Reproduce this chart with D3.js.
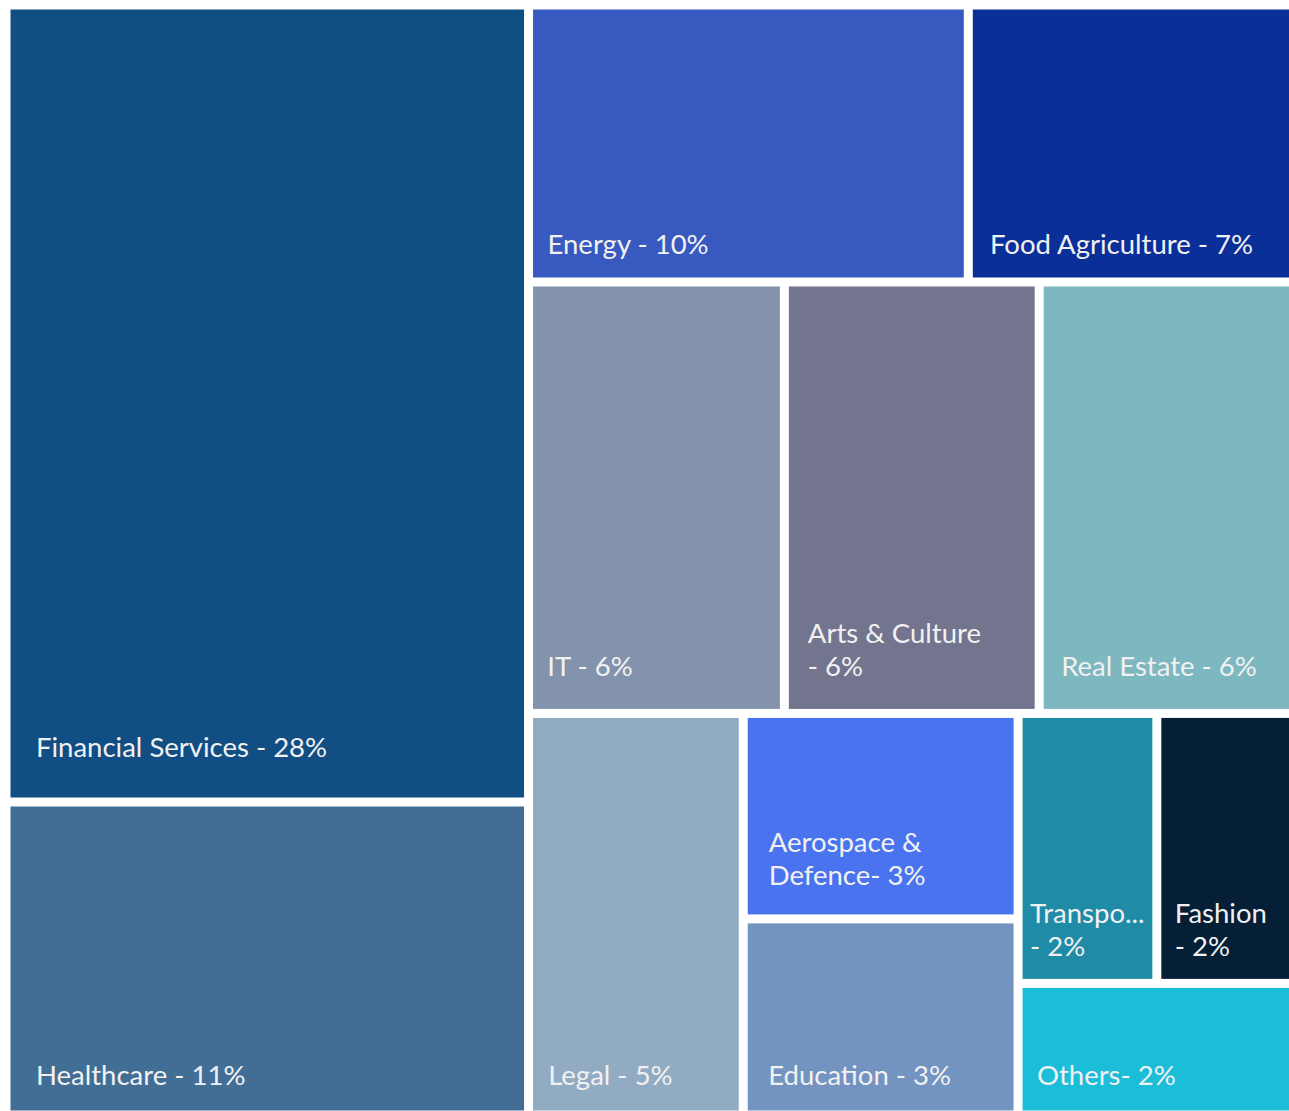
<!DOCTYPE html>
<html>
<head>
<meta charset="utf-8">
<script src="https://cdn.jsdelivr.net/npm/d3@7"></script>
<style>
  html, body { margin: 0; padding: 0; background: #ffffff; }
  svg { display: block; }
  text { font-family: Lato, "Open Sans", sans-serif; }
</style>
</head>
<body>
<div id="chart"></div>
<script>
// ---------------- data ----------------
const categories = ["Financial Services", "Healthcare", "Energy", "Food Agriculture", "IT",
  "Arts & Culture", "Real Estate", "Legal", "Aerospace & Defence", "Education",
  "Transportation", "Fashion", "Others"];
const labels = ["Financial Services - 28%", "Healthcare - 11%", "Energy - 10%", "Food Agriculture - 7%",
  "IT - 6%", "Arts & Culture - 6%", "Real Estate - 6%", "Legal - 5%", "Aerospace & Defence- 3%",
  "Education - 3%", "Transportation - 2%", "Fashion - 2%", "Others- 2%"];
// relative weights (tile areas)
const weights = [29.13, 11.44, 8.52, 6.31, 7.72, 7.69, 7.69, 6.03, 3.95, 3.77, 2.62, 2.59, 2.54];
// grouping path of each tile in the nested layout
const groups = ["A", "A", "B/r1", "B/r1", "B/r2", "B/r2", "B/r2", "B/r3", "B/r3/c", "B/r3/c",
  "B/r3/d/e", "B/r3/d/e", "B/r3/d"];
const colors = ["#114e83", "#426e96", "#3859bf", "#0b2f99", "#8293ab", "#73758f", "#7db7bf",
  "#91abc3", "#4a73ef", "#7393c1", "#1f8ba6", "#041f36", "#1bbdd9"];

// ---------------- label styling (offsets from tile left / bottom) ----------------
const labelDx = {"Financial Services": 25.5, "Healthcare": 25.5, "Energy": 14.5, "Food Agriculture": 17.2,
  "IT": 14.3, "Arts & Culture": 19, "Real Estate": 17.5, "Legal": 15.2, "Aerospace & Defence": 21,
  "Education": 20.5, "Transportation": 7.5, "Fashion": 13.5, "Others": 14.4};
const labelBottom = {"Financial Services": 40.5, "Healthcare": 25.5, "Energy": 23.5, "Food Agriculture": 23.5,
  "IT": 32.5, "Arts & Culture": 32.5, "Real Estate": 33, "Legal": 25.5, "Aerospace & Defence": 29,
  "Education": 25.5, "Transportation": 23, "Fashion": 23, "Others": 25.5};

const W = 1289, H = 1111;
const fontSize = 27.5, lineH = 33;

// build nested hierarchy
const rootData = {name: "root", children: []};
categories.forEach((c, i) => {
  let node = rootData;
  groups[i].split("/").forEach(g => {
    let ch = node.children.find(d => d.name === "__" + g);
    if (!ch) { ch = {name: "__" + g, children: []}; node.children.push(ch); }
    node = ch;
  });
  node.children.push({name: c, label: labels[i], value: weights[i], color: colors[i]});
});

const root = d3.hierarchy(rootData).sum(d => d.value || 0);
d3.treemap()
  .tile(d3.treemapSliceDice)
  .size([1279, 1101])
  .paddingInner(9)
  .round(false)(root);

const svg = d3.select("#chart").append("svg").attr("width", W).attr("height", H);
const g = svg.append("g").attr("transform", "translate(10.5,9.5)");

const leaves = g.selectAll("g.leaf").data(root.leaves()).join("g").attr("class", "leaf");
leaves.append("rect")
  .attr("x", d => d.x0).attr("y", d => d.y0)
  .attr("width", d => d.x1 - d.x0).attr("height", d => d.y1 - d.y0)
  .attr("fill", d => d.data.color);

// measure helper
const meas = svg.append("text").attr("font-size", fontSize).attr("visibility", "hidden");
function tw(s) { meas.text(s); return meas.node().getComputedTextLength(); }

leaves.each(function(d) {
  const w = d.x1 - d.x0;
  const dx = labelDx[d.data.name];
  const avail = w - 2 * dx;
  // tokens: keep "- N%" pieces glued
  const raw = d.data.label.split(" ");
  const tokens = [];
  for (let i = 0; i < raw.length; i++) {
    let t = raw[i];
    while ((t === "-" || t.endsWith("-")) && i + 1 < raw.length) { t += " " + raw[++i]; }
    tokens.push(t);
  }
  const lines = [];
  let cur = "";
  tokens.forEach(t => {
    const test = cur ? cur + " " + t : t;
    if (tw(test) <= avail || !cur) cur = test; else { lines.push(cur); cur = t; }
  });
  if (cur) lines.push(cur);
  const out = lines.map(l => {
    if (tw(l) <= w - dx - 4) return l;
    let s = l;
    while (s.length > 1 && tw(s + "...") > w - dx - 4) s = s.slice(0, -1);
    return s + "...";
  });
  const t = d3.select(this).append("text")
    .attr("font-size", fontSize)
    .attr("fill", "#f1f1f1")
    .attr("x", d.x0 + dx);
  const baseY = d.y1 - labelBottom[d.data.name] - (out.length - 1) * lineH;
  out.forEach((l, i) => {
    t.append("tspan").attr("x", d.x0 + dx).attr("y", baseY + i * lineH).text(l);
  });
});
meas.remove();
</script>
</body>
</html>
